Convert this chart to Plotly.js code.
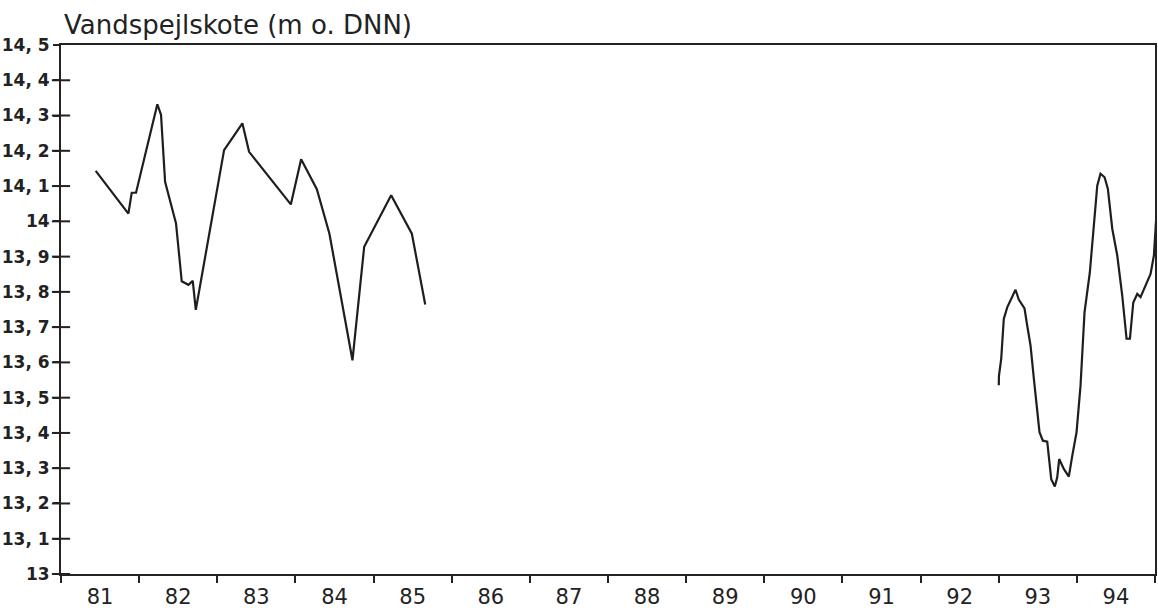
<!DOCTYPE html>
<html>
<head>
<meta charset="utf-8">
<script src="https://cdn.plot.ly/plotly-3.0.1.min.js"></script>
<style>html,body{margin:0;padding:0;background:#fff;}#chart{width:1158px;height:612px;}</style>
</head>
<body>
<div id="chart"></div>
<script>
// Left series (1981-1985)
const leftYear = [1981.444, 1981.862, 1981.905, 1981.960, 1982.233, 1982.280, 1982.332, 1982.472, 1982.545, 1982.630, 1982.686, 1982.725, 1983.087, 1983.321, 1983.407, 1983.941, 1984.073, 1984.274, 1984.435, 1984.730, 1984.880, 1985.225, 1985.490, 1985.661];
const leftLevel = [14.143, 14.022, 14.081, 14.081, 14.332, 14.302, 14.112, 13.994, 13.830, 13.820, 13.831, 13.749, 14.202, 14.278, 14.197, 14.048, 14.176, 14.091, 13.965, 13.606, 13.928, 14.074, 13.965, 13.764];

// Right series (1993-1995)
const rightYear = [1993.001, 1993.003, 1993.032, 1993.065, 1993.109, 1993.173, 1993.215, 1993.257, 1993.330, 1993.365, 1993.407, 1993.450, 1993.493, 1993.522, 1993.565, 1993.621, 1993.672, 1993.718, 1993.749, 1993.774, 1993.833, 1993.897, 1993.941, 1993.996, 1994.047, 1994.098, 1994.166, 1994.210, 1994.261, 1994.303, 1994.355, 1994.397, 1994.453, 1994.517, 1994.581, 1994.636, 1994.679, 1994.722, 1994.773, 1994.815, 1994.879, 1994.943, 1994.986, 1995.020];
const rightLevel = [13.535, 13.562, 13.610, 13.723, 13.756, 13.789, 13.806, 13.778, 13.753, 13.704, 13.648, 13.553, 13.458, 13.402, 13.378, 13.375, 13.269, 13.248, 13.274, 13.326, 13.298, 13.276, 13.335, 13.402, 13.534, 13.742, 13.855, 13.979, 14.101, 14.135, 14.125, 14.092, 13.979, 13.903, 13.789, 13.667, 13.667, 13.770, 13.794, 13.785, 13.818, 13.851, 13.903, 14.026];

// Axis labels
const yearLabels = ["81","82","83","84","85","86","87","88","89","90","91","92","93","94"];
const yearLabelPos = [1981.5,1982.5,1983.5,1984.5,1985.5,1986.5,1987.5,1988.5,1989.5,1990.5,1991.5,1992.5,1993.5,1994.5];
const yearBounds = [1981,1982,1983,1984,1985,1986,1987,1988,1989,1990,1991,1992,1993,1994,1995];
const levelTicks = [13,13.1,13.2,13.3,13.4,13.5,13.6,13.7,13.8,13.9,14,14.1,14.2,14.3,14.4,14.5];
const levelLabels = ["13","13, 1","13, 2","13, 3","13, 4","13, 5","13, 6","13, 7","13, 8","13, 9","14","14, 1","14, 2","14, 3","14, 4","14, 5"];

const ink = '#222';
const lineStyle = {color: '#1e1e1e', width: 2.2};

const xr = [1981, 1995];
const yr = [13, 14.5];

const traces = [
  {x: leftYear, y: leftLevel, type: 'scatter', mode: 'lines', line: lineStyle, xaxis: 'x', yaxis: 'y', showlegend: false, hoverinfo: 'skip'},
  {x: rightYear, y: rightLevel, type: 'scatter', mode: 'lines', line: lineStyle, xaxis: 'x', yaxis: 'y', showlegend: false, hoverinfo: 'skip'},
  // crossing tick marks on the value axis ("+" style)
  {x: levelTicks.map(() => xr[0]), y: levelTicks.slice(0, -1), type: 'scatter', mode: 'markers',
   marker: {symbol: 'line-ew', size: 13, color: ink, line: {color: ink, width: 2}},
   cliponaxis: false, xaxis: 'x', yaxis: 'y', showlegend: false, hoverinfo: 'skip'},
  {x: [yearBounds[0]], y: [levelTicks[0]], type: 'scatter', mode: 'markers', marker: {opacity: 0}, xaxis: 'x2', yaxis: 'y', showlegend: false, hoverinfo: 'skip'}
];

const layout = {
  width: 1158, height: 612,
  margin: {l: 61, r: 3, t: 45, b: 38},
  paper_bgcolor: '#fff', plot_bgcolor: '#fff',
  showlegend: false,
  title: {
    text: 'Vandspejlskote (m o. DNN)',
    x: 64/1158, xanchor: 'left', xref: 'container',
    y: 1 - 25/612, yanchor: 'middle', yref: 'container',
    font: {family: 'DejaVu Sans', size: 26, color: ink}
  },
  xaxis: {
    range: xr, tickvals: yearLabelPos, ticktext: yearLabels, ticks: '',
    showgrid: false, zeroline: false,
    showline: true, linecolor: ink, linewidth: 2, mirror: true,
    tickfont: {family: 'DejaVu Sans', size: 21, color: ink},
    ticklabelstandoff: 3, fixedrange: true
  },
  yaxis: {
    range: yr, tickvals: levelTicks, ticktext: levelLabels,
    ticks: 'outside', ticklen: 6, tickwidth: 2, tickcolor: ink,
    showgrid: false, zeroline: false,
    showline: true, linecolor: ink, linewidth: 2, mirror: true,
    tickfont: {family: 'DejaVu Sans', size: 17, color: ink, weight: 'bold'},
    fixedrange: true
  },
  xaxis2: {
    overlaying: 'x', anchor: 'y', range: xr, tickvals: yearBounds,
    ticks: 'outside', ticklen: 8, tickwidth: 2, tickcolor: ink,
    showticklabels: false, showgrid: false, zeroline: false, showline: false, fixedrange: true
  }
};

Plotly.newPlot('chart', traces, layout, {displayModeBar: false, staticPlot: true});
</script>
</body>
</html>
